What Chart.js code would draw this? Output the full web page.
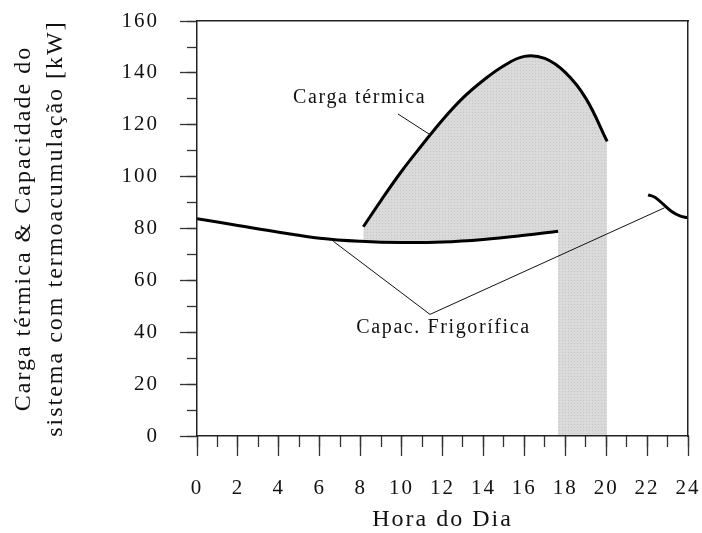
<!DOCTYPE html>
<html lang="pt">
<head>
<meta charset="utf-8">
<title>Carga térmica e capacidade frigorífica</title>
<script src="https://cdn.jsdelivr.net/npm/chart.js@4.4.1/dist/chart.umd.min.js"></script>
<style>
  html, body { margin: 0; padding: 0; background: #fff; }
  #caixa { width: 702px; height: 533px; position: relative; }
</style>
</head>
<body>
<div id="caixa"><canvas id="grafico"></canvas></div>
<script>
// Carga térmica (kW) ao longo do dia
const cargaHoras = [8.13, 9, 10, 11, 12, 13, 14, 15, 16, 17, 18, 19, 20.05];
const cargaKW    = [80.7, 90.9, 102.1, 112.2, 121.9, 130.4, 137.2, 142.8, 146.4, 145.6, 140.2, 130.3, 113.6];

// Capacidade frigorífica (kW), dois trechos
const capacHoras = [0, 2, 4, 6, 8, 10, 12, 14, 16, 17.65];
const capacKW    = [83.8, 81.2, 78.6, 76.3, 75.1, 74.6, 74.8, 75.8, 77.4, 79];
const capac2Horas = [22.05, 22.4, 22.8, 23.2, 23.6, 24];
const capac2KW    = [93, 92, 89.3, 86.6, 84.9, 84.1];

// linhas de chamada dos rótulos
const guiaCargaHoras = [9.82, 11.39];
const guiaCargaKW    = [124.2, 116.2];
const guiaCapacHoras = [6.66, 11.39, 22.85];
const guiaCapacKW    = [75.1, 46.9, 88];

// rótulos dentro do gráfico
const rotulos     = ['Carga térmica', 'Capac. Frigorífica'];
const rotuloHoras = [7.95, 12.05];
const rotuloKW    = [130.5, 41.7];

// eixos
const tituloX = 'Hora do Dia';
const tituloY = ['Carga térmica & Capacidade do', 'sistema com termoacumulação [kW]'];

function pontos(xs, ys) {
    return xs.map((h, i) => ({ x: h, y: ys[i] }));
}

const canvas = document.getElementById('grafico');
const ctx = canvas.getContext('2d');

// padrão pontilhado cinza do preenchimento
const tile = document.createElement('canvas');
tile.width = 3;
tile.height = 3;
const tctx = tile.getContext('2d');
tctx.fillStyle = '#dadada';
tctx.fillRect(0, 0, 3, 3);
tctx.fillStyle = '#c4c4c4';
tctx.fillRect(1, 1, 1, 1);
const pontilhado = ctx.createPattern(tile, 'repeat');

const espacamento = {
    id: 'espacamento',
    beforeUpdate(chart) { chart.ctx.letterSpacing = '2px'; },
    beforeDraw(chart) { chart.ctx.letterSpacing = '2px'; }
};

const rotulosPlugin = {
    id: 'rotulos',
    afterDatasetsDraw(chart) {
        const c = chart.ctx;
        const sx = chart.scales.x, sy = chart.scales.y;
        c.save();
        c.font = "20px 'Liberation Serif', 'Times New Roman', serif";
        c.letterSpacing = '1.6px';
        c.fillStyle = '#111';
        c.textAlign = 'center';
        c.textBaseline = 'middle';
        rotulos.forEach((t, i) => {
            c.fillText(t, sx.getPixelForValue(rotuloHoras[i]), sy.getPixelForValue(rotuloKW[i]));
        });
        c.restore();
    }
};

Chart.defaults.font.family = "'Liberation Serif', 'Times New Roman', serif";
Chart.defaults.color = '#111';

const borda = { display: true, color: '#222', width: 1.5, z: 1 };

function curva(pts, extra) {
    return Object.assign({
        data: pts,
        borderColor: '#000',
        borderWidth: 3,
        pointRadius: 0,
        tension: 0.4,
        fill: false
    }, extra);
}

new Chart(ctx, {
    type: 'line',
    data: {
        datasets: [
            curva(pontos(cargaHoras, cargaKW), { fill: 'origin', backgroundColor: pontilhado, order: 5 }),
            curva(pontos(capacHoras, capacKW), { fill: 'origin', backgroundColor: '#fff', order: 4 }),
            curva(pontos(capac2Horas, capac2KW), { order: 3 }),
            curva(pontos(guiaCargaHoras, guiaCargaKW), { borderColor: '#111', borderWidth: 1, tension: 0, order: 2 }),
            curva(pontos(guiaCapacHoras, guiaCapacKW), { borderColor: '#111', borderWidth: 1, tension: 0, order: 1 })
        ]
    },
    options: {
        responsive: true,
        maintainAspectRatio: false,
        animation: false,
        layout: { padding: { left: 0, top: 21, right: 14, bottom: 0 } },
        plugins: {
            legend: { display: false },
            tooltip: { enabled: false }
        },
        scales: {
            x: {
                type: 'linear', position: 'bottom', min: 0, max: 24, weight: 0,
                ticks: { stepSize: 2, autoSkip: false, maxRotation: 0, padding: 0, font: { size: 21, lineHeight: 3.14 } },
                grid: { drawOnChartArea: false, tickLength: 20, color: '#333', tickWidth: 1.3 },
                border: borda,
                title: { display: true, text: tituloX, font: { size: 24, lineHeight: 1.1 }, padding: { top: 0, bottom: 0 } },
                afterFit(s) { s.height = 97; }
            },
            xMinor: {
                type: 'linear', position: 'bottom', min: 0, max: 24, weight: -1,
                ticks: { display: false, stepSize: 1, autoSkip: false },
                grid: { drawOnChartArea: false, tickLength: 11, color: '#333', tickWidth: 1.3 },
                border: { display: false },
                afterFit(s) { s.height = 0; }
            },
            xTopo: {
                type: 'linear', position: 'top', min: 0, max: 24,
                ticks: { display: false },
                grid: { display: false },
                border: borda,
                afterFit(s) { s.height = 0; }
            },
            y: {
                type: 'linear', position: 'left', min: 0, max: 160, weight: 0,
                ticks: { stepSize: 20, padding: 21, font: { size: 21, lineHeight: 0.01 } },
                grid: { drawOnChartArea: false, tickLength: 17, color: '#333', tickWidth: 1.3 },
                border: borda,
                title: { display: true, text: tituloY, font: { size: 24, lineHeight: 1.33 }, padding: { top: 8, bottom: 0 } },
                afterFit(s) { s.width = 197; }
            },
            yMinor: {
                type: 'linear', position: 'left', min: 0, max: 160, weight: -1,
                ticks: { display: false, stepSize: 10 },
                grid: { drawOnChartArea: false, tickLength: 10, color: '#333', tickWidth: 1.3 },
                border: { display: false },
                afterFit(s) { s.width = 0; }
            },
            yDir: {
                type: 'linear', position: 'right', min: 0, max: 160,
                ticks: { display: false },
                grid: { display: false },
                border: borda,
                afterFit(s) { s.width = 0; }
            }
        }
    },
    plugins: [espacamento, rotulosPlugin]
});
</script>
</body>
</html>
